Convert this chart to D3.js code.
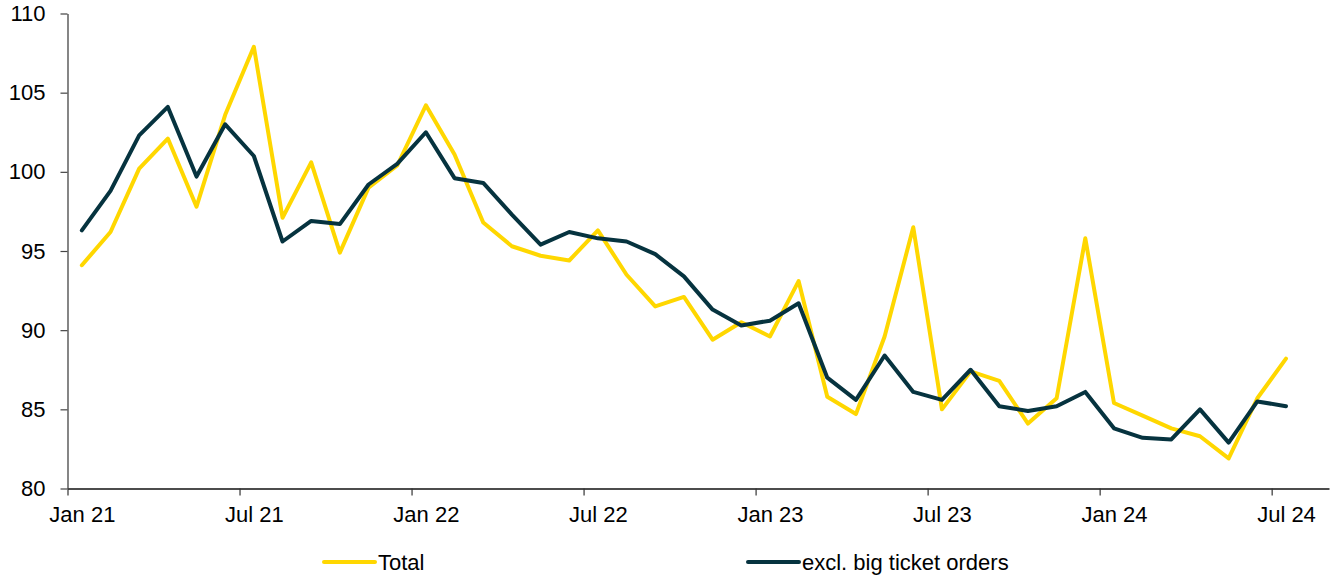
<!DOCTYPE html>
<html>
<head>
<meta charset="utf-8">
<script src="https://cdn.jsdelivr.net/npm/d3@7"></script>
<style>
  html, body { margin: 0; padding: 0; background: #fff; }
  #chart { width: 1337px; height: 580px; }
  text { font-family: "Liberation Sans", Arial, sans-serif; fill: #000; }
</style>
</head>
<body>
<div id="chart"></div>
<script>
// monthly index, Jan 21 .. Jul 24
const totalValues = [
  94.1, 96.2, 100.2, 102.1, 97.8, 103.6, 107.9, 97.1, 100.6, 94.9, 99.0, 100.4,
  104.2, 101.1, 96.8, 95.3, 94.7, 94.4, 96.3, 93.5, 91.5, 92.1, 89.4, 90.5,
  89.6, 93.1, 85.8, 84.7, 89.6, 96.5, 85.0, 87.4, 86.8, 84.1, 85.7, 95.8,
  85.4, 84.6, 83.8, 83.3, 81.9, 85.7, 88.2
];
const exclValues = [
  96.3, 98.8, 102.3, 104.1, 99.7, 103.0, 101.0, 95.6, 96.9, 96.7, 99.2, 100.5,
  102.5, 99.6, 99.3, 97.3, 95.4, 96.2, 95.8, 95.6, 94.8, 93.4, 91.3, 90.3,
  90.6, 91.7, 87.0, 85.6, 88.4, 86.1, 85.6, 87.5, 85.2, 84.9, 85.2, 86.1,
  83.8, 83.2, 83.1, 85.0, 82.9, 85.5, 85.2
];
const tickMonths = [0, 6, 12, 18, 24, 30, 36, 42];
const tickLabels = ["Jan 21", "Jul 21", "Jan 22", "Jul 22", "Jan 23", "Jul 23", "Jan 24", "Jul 24"];
const yTicks = [80, 85, 90, 95, 100, 105, 110];
const seriesNames = ["Total", "excl. big ticket orders"];
const seriesColors = ["#FFD700", "#06333F"];

function drawChart() {
  const width = 1337, height = 580;
  const svg = d3.select("#chart").append("svg")
    .attr("width", width)
    .attr("height", height);

  // month slots, 44 of them on the axis
  const x = d3.scaleLinear().domain([0, 44]).range([67.5, 1329]);
  const y = d3.scaleLinear().domain([80, 110]).range([488.5, 13.5]);
  const halfMonth = x(0.5) - x(0);

  // x axis
  const xAxis = svg.append("g")
    .attr("transform", `translate(0,${y(80)})`)
    .call(d3.axisBottom(x)
      .tickValues(tickMonths)
      .tickFormat((d, i) => tickLabels[i])
      .tickSizeInner(7)
      .tickSizeOuter(0)
      .tickPadding(11));
  xAxis.select(".domain").attr("stroke", "#111").attr("stroke-width", 1.3);
  xAxis.selectAll(".tick line").attr("stroke", "#333").attr("stroke-width", 1.2);
  xAxis.selectAll(".tick text")
    .attr("x", halfMonth)
    .style("font-size", "22px")
    .attr("fill", "#000");

  // y axis
  const yAxis = svg.append("g")
    .attr("transform", `translate(${x(0)},0)`)
    .call(d3.axisLeft(y)
      .tickValues(yTicks)
      .tickSizeInner(7)
      .tickSizeOuter(0)
      .tickPadding(15));
  yAxis.select(".domain").attr("stroke", "#444").attr("stroke-width", 1.3);
  yAxis.selectAll(".tick line").attr("stroke", "#444").attr("stroke-width", 1.2);
  yAxis.selectAll(".tick text")
    .style("font-size", "22px")
    .attr("fill", "#000");

  const line = d3.line()
    .x((d, i) => x(i + 0.5))
    .y(d => y(d));

  [totalValues, exclValues].forEach((vals, k) => {
    svg.append("path")
      .datum(vals)
      .attr("d", line)
      .attr("fill", "none")
      .attr("stroke", seriesColors[k])
      .attr("stroke-width", 4)
      .attr("stroke-linejoin", "round")
      .attr("stroke-linecap", "round");
  });

  // legend
  const legendX = [324, 748];
  seriesNames.forEach((name, k) => {
    const g = svg.append("g").attr("transform", `translate(${legendX[k]},562)`);
    g.append("line")
      .attr("x1", 0).attr("x2", 51)
      .attr("stroke", seriesColors[k])
      .attr("stroke-width", 4)
      .attr("stroke-linecap", "round");
    g.append("text")
      .attr("x", 54)
      .attr("dy", "0.35em")
      .style("font-size", "22px")
      .text(name);
  });
}

drawChart();
</script>
</body>
</html>
